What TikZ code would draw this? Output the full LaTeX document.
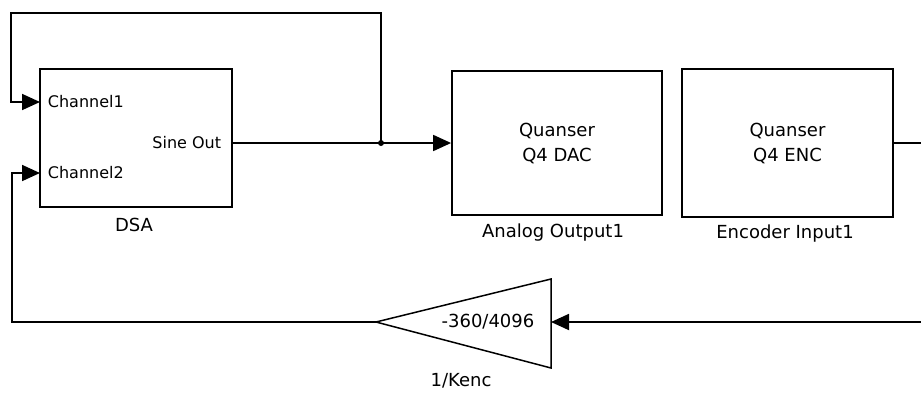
\documentclass[tikz,border=0pt]{standalone}
\usepackage{fontspec}
\setmainfont{DejaVu Sans}
\usetikzlibrary{arrows.meta}

\begin{document}
\begin{tikzpicture}[x=1pt, y=-1pt, line width=1.8pt,
	block/.style={draw, rectangle, inner sep=0pt, align=center, font=\fontsize{18}{25}\selectfont},
	blocklabel/.style={inner sep=0pt, font=\fontsize{18}{20}\selectfont},
	port/.style={inner sep=0pt, font=\fontsize{16}{18}\selectfont},
	sig/.style={-{Triangle[length=18pt, width=16pt]}},
	]
	\useasboundingbox (0,0) rectangle (921,392);

	% blocks
	\node[block, minimum width=192pt, minimum height=138pt] (dsa) at (136,138){};
	\node[block, minimum width=210pt, minimum height=144pt] (dac) at (557,143){Quanser\\Q4 DAC};
	\node[block, minimum width=211pt, minimum height=148pt] (enc) at (787.5,143){Quanser\\Q4 ENC};

	\node[blocklabel] (dsalab) at (134,225){DSA};
	\node[blocklabel] (daclab) at (553,233){Analog Output1};
	\node[blocklabel] (enclab) at (785,234){Encoder Input1};

	% ports of the DSA block
	\coordinate (ch1) at (40,102);
	\coordinate (ch2) at (40,173);
	\coordinate (sout) at (232,143);
	\node[port, anchor=west] (ch1lab) at (47,102){Channel1};
	\node[port, anchor=west] (ch2lab) at (47,173){Channel2};
	\node[port, anchor=east] (soutlab) at (222,143){Sine Out};

	% gain
	\coordinate (gin) at (551,322);
	\coordinate (gout) at (376,322);
	\draw[line width=1.5pt] (gout) -- (551,279) -- (551,368) -- cycle;
	\node[inner sep=0pt, font=\fontsize{18}{20}\selectfont] (gainval) at (488,322){-360/4096};
	\node[inner sep=0pt, anchor=base, font=\fontsize{18}{20}\selectfont] (gainlab) at (461,386){1/Kenc};

	% lines
	\coordinate (br) at (381,143);
	\coordinate (tl) at (11,13);
	\coordinate (bl) at (12,322);
	\coordinate (encout) at (921,143);
	\coordinate (fbin) at (921,322);

	\draw[sig] (sout) -- (dac.west);
	\fill (br) circle (3pt);
	\draw[sig] (br) |- (tl) |- (ch1);
	\draw (enc.east) -- (encout);
	\draw[sig] (fbin) -- (gin);
	\draw[sig] (gout) -- (bl) |- (ch2);
\end{tikzpicture}
\end{document}
